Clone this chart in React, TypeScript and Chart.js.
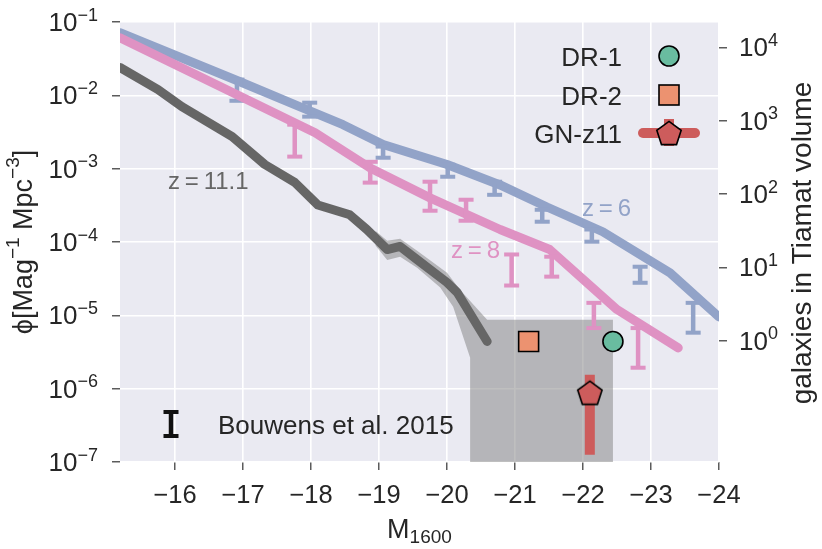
import React, { useEffect, useRef } from 'react';
import { Chart, registerables } from 'chart.js';

Chart.register(...registerables);

// ---------------- data ----------------
const X_TICKS = [-16, -17, -18, -19, -20, -21, -22, -23, -24];
const Y_TICKS = [1e-7, 1e-6, 1e-5, 1e-4, 1e-3, 1e-2, 1e-1];
const Y2_TICKS = [1, 10, 100, 1000, 10000];
const X_MIN = -24;
const X_MAX = -15.19;
const Y_MIN = 1e-7;
const Y_MAX = 1e-1;
const Y2_MIN = 0.0222;
const Y2_MAX = 22200;

// z=6 model (blue)
const Z6_M = [-15.19, -16.955, -17.84, -18.47, -19.06, -20.0, -20.78, -21.47, -22.29, -23.28, -24.0];
const Z6_PHI = [0.0714, 0.0153, 0.00698, 0.00398, 0.00214, 0.00114, 6.0e-4, 3.0e-4, 1.38e-4, 3.8e-5, 9.5e-6];

// z=8 model (pink)
const Z8_M = [-15.19, -18.06, -18.87, -19.75, -20.78, -21.51, -22.5, -23.4];
const Z8_PHI = [0.0611, 0.00309, 0.00102, 4.0e-4, 1.48e-4, 7.9e-5, 1.2e-5, 3.6e-6];

// z=11.1 model (grey)
const Z11_M = [-15.19, -15.75, -16.1, -16.84, -17.32, -17.76, -18.1, -18.57, -18.82, -19.12, -19.31, -19.56, -20.0, -20.15, -20.59];
const Z11_PHI = [0.024, 0.012, 0.007, 0.00274, 0.00114, 6.5e-4, 3.2e-4, 2.35e-4, 1.48e-4, 7.9e-5, 8.7e-5, 5.75e-5, 2.8e-5, 2.05e-5, 4.4e-6];

// shaded uncertainty region (outline)
const SHADE_M = [-18.95, -19.12, -19.31, -19.56, -20.0, -20.19, -20.59, -22.44, -22.44, -20.34, -20.34, -20.09, -19.9, -19.56, -19.31, -19.12, -18.95];
const SHADE_PHI = [1.41e-4, 1.04e-4, 1.11e-4, 7.6e-5, 3.8e-5, 2.23e-5, 8.7e-6, 8.7e-6, 1e-8, 1e-8, 2.64e-6, 1.31e-5, 2.4e-5, 4.45e-5, 6.3e-5, 5.7e-5, 8.9e-5];

// Bouwens et al. 2015 error bars
const BLUE_ERR_M = [-16.91, -17.98, -19.06, -20.01, -20.7, -21.4, -22.13, -22.84, -23.62];
const BLUE_ERR_HI = [0.0164, 0.00794, 0.002, 0.00113, 6.64e-4, 2.75e-4, 1.48e-4, 4.6e-5, 1.48e-5];
const BLUE_ERR_LO = [0.00843, 0.00512, 0.00141, 7.76e-4, 4.4e-4, 1.89e-4, 1.01e-4, 2.78e-5, 5.8e-6];

const PINK_ERR_M = [-17.76, -18.87, -19.75, -20.28, -20.95, -21.54, -22.16, -22.81];
const PINK_ERR_HI = [3.98e-3, 1.24e-3, 6.64e-4, 3.77e-4, 6.76e-5, 6.3e-5, 1.48e-5, 6.7e-6];
const PINK_ERR_LO = [1.46e-3, 6.45e-4, 2.67e-4, 1.95e-4, 2.55e-5, 3.37e-5, 6.7e-6, 1.93e-6];

// observed objects
const DR1 = { m: -22.44, phi: 4.4e-6 };
const DR2 = { m: -21.2, phi: 4.4e-6 };
const GNZ11 = { m: -22.1, phi: 8.8e-7, hi: 1.55e-6, lo: 1.26e-7 };

const LEGEND_LABELS = ['DR-1', 'DR-2', 'GN-z11'];
const BOUWENS_LABEL = 'Bouwens et al. 2015';
const CURVE_LABELS = ['z\u2009=\u200911.1', 'z\u2009=\u20096', 'z\u2009=\u20098'];

// ---------------- style ----------------
const FONT = '"Liberation Sans", Arial, Helvetica, sans-serif';
const TEXT = '#262626';
const BLUE = '#92a3c8';
const PINK = '#df92c3';
const GREY = '#666666';
const TEAL = '#69bca0';
const ORANGE = '#ec9270';
const RED = '#cd5c5c';

function font(px: number) {
  return `${px}px ${FONT}`;
}

type Run = { t: string; size: number; dy?: number };

function runsWidth(ctx: CanvasRenderingContext2D, runs: Run[]) {
  let w = 0;
  for (const r of runs) {
    ctx.font = font(r.size);
    w += ctx.measureText(r.t).width;
  }
  return w;
}

function drawRuns(ctx: CanvasRenderingContext2D, runs: Run[], x: number, y: number) {
  let cx = x;
  for (const r of runs) {
    ctx.font = font(r.size);
    ctx.fillText(r.t, cx, y + (r.dy || 0));
    cx += ctx.measureText(r.t).width;
  }
}

function pentagonPath(ctx: CanvasRenderingContext2D, cx: number, cy: number, R: number) {
  ctx.beginPath();
  for (let k = 0; k < 5; k++) {
    const a = -Math.PI / 2 + (k * 2 * Math.PI) / 5;
    const px = cx + R * Math.cos(a);
    const py = cy + R * Math.sin(a);
    if (k === 0) ctx.moveTo(px, py);
    else ctx.lineTo(px, py);
  }
  ctx.closePath();
}

function makePentagon(): HTMLCanvasElement {
  const c = document.createElement('canvas');
  c.width = 30;
  c.height = 30;
  const ctx = c.getContext('2d')!;
  const R = 12.8;
  pentagonPath(ctx, 15, 15 + 0.0955 * R, R);
  ctx.fillStyle = RED;
  ctx.fill();
  ctx.lineWidth = 1.6;
  ctx.strokeStyle = '#000';
  ctx.stroke();
  return c;
}

function errorBarData(ms: number[], lo: number[], hi: number[]) {
  const out: { x: number; y: number | null }[] = [];
  ms.forEach((m, i) => {
    out.push({ x: m, y: lo[i] });
    out.push({ x: m, y: hi[i] });
    out.push({ x: m, y: null });
  });
  return out;
}

function toXY(ms: number[], vals: number[]) {
  return ms.map((m, i) => ({ x: m, y: vals[i] }));
}

const decorPlugin = {
  id: 'decor',
  beforeDraw(chart: any) {
    const { ctx, chartArea } = chart;
    ctx.save();
    ctx.fillStyle = '#ffffff';
    ctx.fillRect(0, 0, chart.width, chart.height);
    ctx.fillStyle = '#eaeaf2';
    ctx.fillRect(chartArea.left, chartArea.top, chartArea.right - chartArea.left, chartArea.bottom - chartArea.top);
    ctx.restore();
  },
  afterDraw(chart: any) {
    const { ctx, chartArea } = chart;
    const xs = chart.scales.x;
    const ys = chart.scales.y;
    const y2 = chart.scales.y2;
    ctx.save();
    ctx.textAlign = 'left';
    ctx.textBaseline = 'alphabetic';
    ctx.fillStyle = TEXT;

    // left ticks
    for (const v of Y_TICKS) {
      const py = ys.getPixelForValue(v);
      const e = Math.round(Math.log10(v));
      const runs: Run[] = [
        { t: '10', size: 26 },
        { t: (e < 0 ? '\u2212' : '') + Math.abs(e), size: 18, dy: -10.5 },
      ];
      const w = runsWidth(ctx, runs);
      drawRuns(ctx, runs, chartArea.left - 22 - w, py + 9);
    }
    // right ticks
    for (const v of Y2_TICKS) {
      const py = y2.getPixelForValue(v);
      const e = Math.round(Math.log10(v));
      const runs: Run[] = [
        { t: '10', size: 26 },
        { t: String(e), size: 18, dy: -10.5 },
      ];
      drawRuns(ctx, runs, chartArea.right + 20, py + 9);
    }
    // x ticks
    ctx.font = font(25.5);
    ctx.textAlign = 'center';
    for (const v of X_TICKS) {
      const px = xs.getPixelForValue(v);
      ctx.fillText('\u2212' + Math.abs(v), px, chartArea.bottom + 41);
    }
    ctx.textAlign = 'left';

    // x title
    const xt: Run[] = [
      { t: 'M', size: 27 },
      { t: '1600', size: 19, dy: 5 },
    ];
    const xtw = runsWidth(ctx, xt);
    drawRuns(ctx, xt, (chartArea.left + chartArea.right) / 2 - xtw / 2, chartArea.bottom + 76);

    // left title
    const lt: Run[] = [
      { t: '\u03d5[Mag', size: 27 },
      { t: '\u22121', size: 19, dy: -13 },
      { t: ' Mpc', size: 27 },
      { t: '\u22123', size: 19, dy: -13 },
      { t: ']', size: 27 },
    ];
    ctx.save();
    ctx.translate(32, (chartArea.top + chartArea.bottom) / 2);
    ctx.rotate(-Math.PI / 2);
    drawRuns(ctx, lt, -runsWidth(ctx, lt) / 2, 0);
    ctx.restore();

    // right title
    ctx.save();
    ctx.translate(811, 243);
    ctx.rotate(-Math.PI / 2);
    ctx.font = font(28);
    ctx.textAlign = 'center';
    ctx.fillText('galaxies in Tiamat volume', 0, 0);
    ctx.restore();

    // curve labels
    ctx.textAlign = 'left';
    ctx.font = font(24);
    ctx.fillStyle = GREY;
    ctx.fillText(CURVE_LABELS[0], 168, 189);
    ctx.fillStyle = BLUE;
    ctx.fillText(CURVE_LABELS[1], 582, 216);
    ctx.fillStyle = PINK;
    ctx.fillText(CURVE_LABELS[2], 451, 258);

    // legend (top right)
    ctx.fillStyle = TEXT;
    ctx.font = font(26);
    ctx.textAlign = 'right';
    const lx = 622;
    const mx = 669;
    const rows = [56, 95, 133];
    LEGEND_LABELS.forEach((lab, i) => ctx.fillText(lab, lx, rows[i] + 9.5));
    // circle
    ctx.beginPath();
    ctx.arc(mx, rows[0], 10, 0, Math.PI * 2);
    ctx.fillStyle = TEAL;
    ctx.fill();
    ctx.lineWidth = 1.6;
    ctx.strokeStyle = '#000';
    ctx.stroke();
    // square
    ctx.fillStyle = ORANGE;
    ctx.fillRect(mx - 10, rows[1] - 10, 20, 20);
    ctx.strokeRect(mx - 10, rows[1] - 10, 20, 20);
    // GN-z11 line + pentagon
    ctx.strokeStyle = RED;
    ctx.lineWidth = 10;
    ctx.lineCap = 'round';
    ctx.beginPath();
    ctx.moveTo(643, rows[2]);
    ctx.lineTo(695, rows[2]);
    ctx.stroke();
    ctx.lineCap = 'butt';
    ctx.beginPath();
    ctx.moveTo(mx, rows[2] - 14);
    ctx.lineTo(mx, rows[2] + 13);
    ctx.stroke();
    const R = 12.8;
    pentagonPath(ctx, mx, rows[2] + 0.0955 * R, R);
    ctx.fillStyle = RED;
    ctx.fill();
    ctx.lineWidth = 1.6;
    ctx.strokeStyle = '#000';
    ctx.stroke();

    // Bouwens legend
    ctx.strokeStyle = '#111';
    ctx.lineWidth = 4.5;
    ctx.beginPath();
    ctx.moveTo(171, 410);
    ctx.lineTo(171, 438);
    ctx.stroke();
    ctx.lineWidth = 4;
    ctx.beginPath();
    ctx.moveTo(163.5, 412);
    ctx.lineTo(178.5, 412);
    ctx.moveTo(163.5, 436);
    ctx.lineTo(178.5, 436);
    ctx.stroke();
    ctx.fillStyle = TEXT;
    ctx.textAlign = 'left';
    ctx.font = font(26);
    ctx.fillText(BOUWENS_LABEL, 218, 434);

    ctx.restore();
  },
};

export default function App() {
  const ref = useRef<HTMLCanvasElement | null>(null);

  useEffect(() => {
    if (!ref.current) return;
    const pent = makePentagon();
    const gridCommon = {
      color: '#ffffff',
      lineWidth: 1.6,
      tickColor: '#333333',
      tickLength: 8,
      tickWidth: 1.2,
    };
    const chart = new Chart(ref.current, {
      type: 'line',
      data: {
        datasets: [
          {
            label: 'GN-z11',
            data: [{ x: GNZ11.m, y: GNZ11.phi }],
            showLine: false,
            pointStyle: pent as any,
            pointRadius: 12,
            order: 0,
          },
          {
            label: 'GN-z11 err',
            data: [
              { x: GNZ11.m, y: GNZ11.hi },
              { x: GNZ11.m, y: GNZ11.lo },
            ],
            borderColor: RED,
            borderWidth: 10,
            borderCapStyle: 'butt',
            pointRadius: 0,
            order: 1,
          },
          {
            label: 'DR-1',
            data: [{ x: DR1.m, y: DR1.phi }],
            showLine: false,
            pointStyle: 'circle',
            pointRadius: 10,
            pointBackgroundColor: TEAL,
            pointBorderColor: '#000',
            pointBorderWidth: 1.6,
            order: 0,
          },
          {
            label: 'DR-2',
            data: [{ x: DR2.m, y: DR2.phi }],
            showLine: false,
            pointStyle: 'rect',
            pointRadius: 14.1,
            pointBackgroundColor: ORANGE,
            pointBorderColor: '#000',
            pointBorderWidth: 1.6,
            order: 0,
          },
          {
            label: 'z8 err',
            data: errorBarData(PINK_ERR_M, PINK_ERR_LO, PINK_ERR_HI) as any,
            borderColor: PINK,
            borderWidth: 4.5,
            spanGaps: false,
            pointStyle: 'line',
            pointRadius: 7.5,
            pointBorderWidth: 4,
            pointBorderColor: PINK,
            order: 3,
          },
          {
            label: 'z=8',
            data: toXY(Z8_M, Z8_PHI),
            borderColor: PINK,
            borderWidth: 9,
            borderCapStyle: 'round',
            borderJoinStyle: 'round',
            pointRadius: 0,
            clip: 0,
            order: 4,
          },
          {
            label: 'z6 err',
            data: errorBarData(BLUE_ERR_M, BLUE_ERR_LO, BLUE_ERR_HI) as any,
            borderColor: BLUE,
            borderWidth: 4.5,
            spanGaps: false,
            pointStyle: 'line',
            pointRadius: 7.5,
            pointBorderWidth: 4,
            pointBorderColor: BLUE,
            order: 5,
          },
          {
            label: 'z=6',
            data: toXY(Z6_M, Z6_PHI),
            borderColor: BLUE,
            borderWidth: 9,
            borderCapStyle: 'round',
            borderJoinStyle: 'round',
            pointRadius: 0,
            clip: 0,
            order: 6,
          },
          {
            label: 'z=11.1',
            data: toXY(Z11_M, Z11_PHI),
            borderColor: GREY,
            borderWidth: 9,
            borderCapStyle: 'round',
            borderJoinStyle: 'round',
            pointRadius: 0,
            clip: 0,
            order: 7,
          },
          {
            label: 'shade',
            data: toXY(SHADE_M, SHADE_PHI),
            borderWidth: 0,
            borderColor: 'rgba(0,0,0,0)',
            backgroundColor: 'rgba(128,128,128,0.5)',
            fill: 'shape',
            pointRadius: 0,
            clip: 0,
            order: 8,
          },
        ],
      },
      options: {
        animation: false,
        responsive: false,
        maintainAspectRatio: false,
        events: [],
        layout: { padding: { top: 22, left: 0, right: 0, bottom: 0 } },
        plugins: {
          legend: { display: false },
          tooltip: { enabled: false },
        },
        scales: {
          x: {
            type: 'linear',
            min: X_MIN,
            max: X_MAX,
            reverse: true,
            afterBuildTicks: (s: any) => {
              s.ticks = X_TICKS.map((v) => ({ value: v }));
            },
            afterFit: (s: any) => {
              s.height = 87;
            },
            ticks: { display: false },
            grid: gridCommon,
            border: { display: false },
          },
          y: {
            type: 'logarithmic',
            position: 'left',
            min: Y_MIN,
            max: Y_MAX,
            afterBuildTicks: (s: any) => {
              s.ticks = Y_TICKS.map((v) => ({ value: v }));
            },
            afterFit: (s: any) => {
              s.width = 120;
            },
            ticks: { display: false },
            grid: gridCommon,
            border: { display: false },
          },
          y2: {
            type: 'logarithmic',
            position: 'right',
            min: Y2_MIN,
            max: Y2_MAX,
            afterBuildTicks: (s: any) => {
              s.ticks = Y2_TICKS.map((v) => ({ value: v }));
            },
            afterFit: (s: any) => {
              s.width = 103;
            },
            ticks: { display: false },
            grid: { ...gridCommon, drawOnChartArea: false },
            border: { display: false },
          },
        },
      } as any,
      plugins: [decorPlugin],
    });
    return () => chart.destroy();
  }, []);

  return (
    <div style={{ position: 'absolute', left: 0, top: 0, width: 822, height: 549, background: '#fff' }}>
      <canvas ref={ref} width={822} height={549} style={{ display: 'block', width: 822, height: 549 }} />
    </div>
  );
}
